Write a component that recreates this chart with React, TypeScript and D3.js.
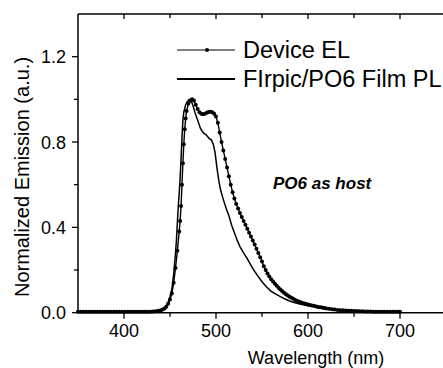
import React from "react";
import * as d3 from "d3";

const elWavelength = [350,353,356,359,362,365,368,371,374,377,380,383,386,389,392,395,398,401,404,407,410,413,416,419,422,425,428,431,434,437,440,442,444,446,448,450,452,454,456,458,460,461,462,463,464,465,466,467,468,470,472,474,476,478,480,482,484,486,488,490,492,494,496,498,500,502,504,506,508,510,512,514,516,518,520,522,524,526,528,530,532,534,536,538,540,542,544,546,548,550,552,554,556,558,560,562,564,566,568,570,572,574,576,578,580,582,584,586,588,590,592,594,596,598,600,602,604,606,608,610,612,614,616,618,620,623,626,629,632,635,638,641,644,647,650,653,656,659,662,665,668,671,674,677,680,683,686,689,692,695,698,700];
const elIntensity = [0.004,0.004,0.004,0.004,0.004,0.004,0.004,0.004,0.004,0.004,0.004,0.004,0.004,0.004,0.004,0.004,0.004,0.004,0.004,0.004,0.004,0.004,0.004,0.004,0.004,0.005,0.005,0.006,0.007,0.009,0.012,0.015,0.02,0.028,0.042,0.062,0.09,0.14,0.21,0.29,0.38,0.43,0.5,0.6,0.7,0.79,0.86,0.91,0.945,0.98,0.995,1.0,0.995,0.975,0.955,0.94,0.933,0.93,0.932,0.937,0.941,0.942,0.94,0.933,0.92,0.89,0.845,0.8,0.76,0.72,0.68,0.64,0.6,0.565,0.535,0.51,0.488,0.467,0.448,0.43,0.412,0.394,0.375,0.357,0.338,0.32,0.3,0.28,0.26,0.24,0.218,0.2,0.184,0.17,0.157,0.146,0.136,0.126,0.117,0.109,0.101,0.094,0.087,0.081,0.075,0.07,0.065,0.06,0.056,0.052,0.049,0.046,0.043,0.041,0.038,0.036,0.034,0.032,0.03,0.028,0.026,0.025,0.023,0.022,0.02,0.018,0.016,0.015,0.013,0.012,0.011,0.01,0.009,0.009,0.008,0.008,0.007,0.007,0.006,0.006,0.006,0.005,0.005,0.005,0.005,0.005,0.005,0.005,0.005,0.005,0.005,0.005];

const plWavelength = [350,380,410,430,435,440,443,445,447,449,450,452,454,456,457,458,459,460,461,462,463,464,465,467,469,471,473,475,477,479,481,483,485,487,489,491,493,495,497,499,501,503,505,508,511,514,517,520,523,526,530,533,537,541,545,550,555,560,565,570,575,580,585,590,595,600,605,610,620,630,640,650,660,670,680,690,700];
const plIntensity = [0.003,0.003,0.003,0.003,0.005,0.01,0.018,0.028,0.04,0.06,0.075,0.11,0.18,0.28,0.34,0.42,0.5,0.56,0.63,0.72,0.82,0.9,0.94,0.975,0.99,1.0,0.995,0.97,0.94,0.915,0.89,0.865,0.85,0.84,0.835,0.825,0.815,0.81,0.79,0.75,0.68,0.62,0.575,0.53,0.49,0.455,0.41,0.375,0.34,0.31,0.28,0.26,0.23,0.2,0.175,0.145,0.12,0.1,0.087,0.075,0.064,0.055,0.048,0.042,0.037,0.033,0.03,0.027,0.02,0.015,0.011,0.008,0.006,0.005,0.004,0.004,0.004];

const xMajorTicks = [400, 500, 600, 700];
const xMinorTicks = [450, 550, 650];
const yMajorTicks = [0.0, 0.4, 0.8, 1.2];
const yMinorTicks = [0.2, 0.6, 1.0];
const legendLabels = ["Device EL", "FIrpic/PO6 Film PL"];
const annotation = "PO6 as host";
const xTitle = "Wavelength (nm)";
const yTitle = "Normalized Emission (a.u.)";

export default function App() {
  const W = 443, H = 368;
  const left = 78, right = 446, top = 14, bottom = 312.7;
  const x = d3.scaleLinear().domain([350, 750]).range([left, right]);
  const y = d3.scaleLinear().domain([0, 1.4]).range([bottom, top]);
  const font = "'Liberation Sans', Arial, sans-serif";

  const el = elWavelength.map((w, i) => [w, elIntensity[i]] as [number, number]);
  const pl = plWavelength.map((w, i) => [w, plIntensity[i]] as [number, number]);
  const line = d3.line<[number, number]>().x(d => x(d[0])).y(d => y(d[1]));

  return (
    <svg width={W} height={H} style={{ position: "absolute", left: 0, top: 0 }} fontFamily={font}>
      <rect width={W} height={H} fill="#fff" />
      <path d={line(pl) || ""} fill="none" stroke="#000" strokeWidth={1.5} />
      <path d={line(el) || ""} fill="none" stroke="#000" strokeWidth={1.4} />
      {el.map((d, i) => (
        <circle key={i} cx={x(d[0])} cy={y(d[1])} r={2} fill="#000" />
      ))}
      <line x1={left} x2={left} y1={top} y2={bottom} stroke="#000" strokeWidth={1.5} />
      <line x1={left} x2={W} y1={bottom} y2={bottom} stroke="#000" strokeWidth={1.5} />
      <line x1={left} x2={W} y1={top} y2={top} stroke="#000" strokeWidth={1.5} />
      {xMajorTicks.map(t => (
        <g key={"xm" + t}>
          <line x1={x(t)} x2={x(t)} y1={bottom} y2={bottom + 6} stroke="#000" strokeWidth={1.3} />
          <line x1={x(t)} x2={x(t)} y1={top} y2={top + 5} stroke="#000" strokeWidth={1.3} />
          <text x={x(t)} y={337} textAnchor="middle" fontSize={18}>{t}</text>
        </g>
      ))}
      {xMinorTicks.map(t => (
        <g key={"xn" + t}>
          <line x1={x(t)} x2={x(t)} y1={bottom} y2={bottom + 4} stroke="#000" strokeWidth={1.3} />
          <line x1={x(t)} x2={x(t)} y1={top} y2={top + 4} stroke="#000" strokeWidth={1.3} />
        </g>
      ))}
      {yMajorTicks.map(t => (
        <g key={"ym" + t}>
          <line x1={left - 6} x2={left} y1={y(t)} y2={y(t)} stroke="#000" strokeWidth={1.3} />
          <text x={66} y={y(t) + 6.5} textAnchor="end" fontSize={18}>{t.toFixed(1)}</text>
        </g>
      ))}
      {yMinorTicks.map(t => (
        <line key={"yn" + t} x1={left - 4} x2={left} y1={y(t)} y2={y(t)} stroke="#000" strokeWidth={1.3} />
      ))}
      <text x={316} y={364} textAnchor="middle" fontSize={18}>{xTitle}</text>
      <text transform={`translate(29,177) rotate(-90)`} textAnchor="middle" fontSize={20}>{yTitle}</text>
      <line x1={177} x2={235} y1={50} y2={50} stroke="#000" strokeWidth={1} />
      <circle cx={207} cy={50} r={2} fill="#000" />
      <text x={243} y={57.5} fontSize={23.5}>{legendLabels[0]}</text>
      <line x1={177} x2={235} y1={79} y2={79} stroke="#000" strokeWidth={1.8} />
      <text x={243} y={86.5} fontSize={23.5}>{legendLabels[1]}</text>
      <text x={273} y={189} fontSize={17} fontWeight="bold" fontStyle="italic">{annotation}</text>
    </svg>
  );
}
